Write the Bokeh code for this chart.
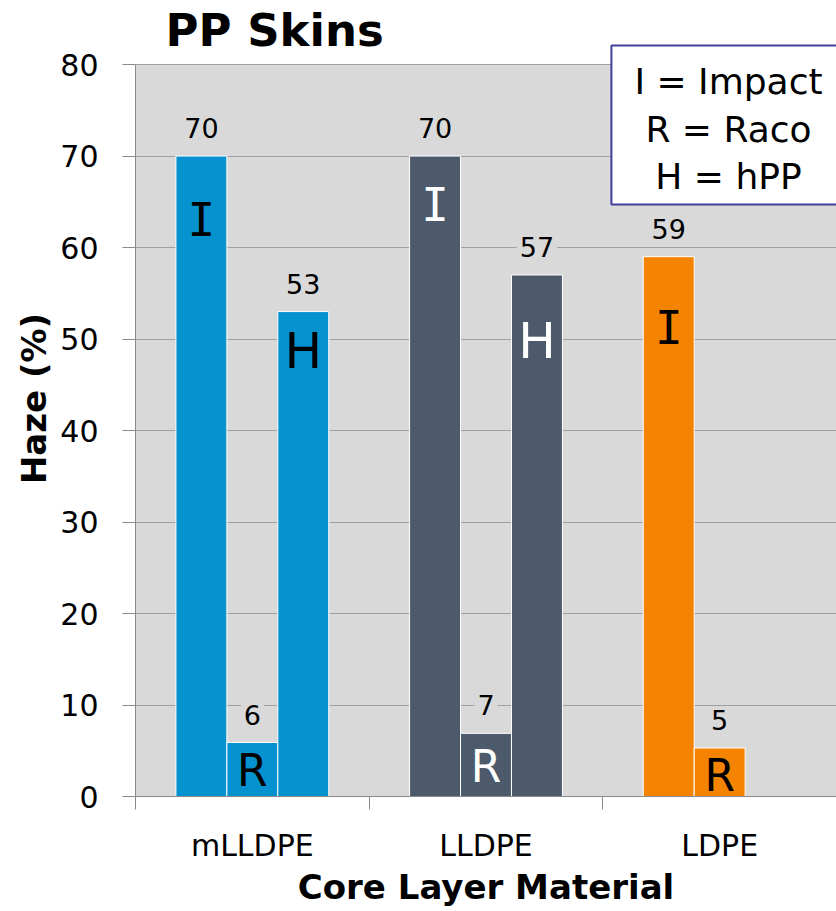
from bokeh.plotting import figure
from bokeh.models import (Range1d, LinearAxis, FixedTicker,
                          ColumnDataSource, Label, BoxAnnotation)
from bokeh.core.properties import value
from bokeh.embed import file_html
from bokeh.resources import INLINE

# ---------------- data ----------------
categories = ["mLLDPE", "LLDPE", "LDPE"]
series_names = ["I", "R", "H"]          # I = Impact, R = Raco, H = hPP
impact = [70, 70, 59]
raco = [5.9, 6.9, 5.3]
hpp = [53, 57, None]
y_ticks = [0, 10, 20, 30, 40, 50, 60, 70, 80]
y_max = 80
legend_lines = ["I = Impact", "R = Raco", "H = hPP"]
title_text = "PP Skins"
x_title = "Core Layer Material"
y_title = "Haze (%)"

# ---------------- styles ----------------
FONT = "DejaVu Sans"
bar_colors = ["#0691cf", "#4c5a6b", "#f38300"]
letter_colors = ["black", "white", "black"]
BG = "#d9d9d9"
GRID = "#a0a0a0"
AXIS = "#8a8a8a"
BAR_W = 0.218
offsets = [-BAR_W, 0.0, BAR_W]
letter_sizes = {"I": "46px", "R": "44px", "H": "50px"}
letter_fonts = {"I": "DejaVu Sans Mono", "R": FONT, "H": FONT}
# pixel drop of the letter below the bar top, per category
letter_drop = {"I": [64, 49, 71], "R": [28, 33, 27], "H": [39, 66, 0]}
HEADROOM = 7.0   # extra (empty) y-space above the 80 line for the title and the key box

n = len(categories)
cat_pos = {c: i + 0.5 for i, c in enumerate(categories)}   # centre of each category slot

p = figure(x_range=Range1d(0, n), y_range=Range1d(0, y_max + HEADROOM),
           width=836, height=911, output_backend="svg", toolbar_location=None,
           x_axis_location=None, min_border_left=135, min_border_top=0,
           min_border_bottom=115, min_border_right=0)
p.background_fill_color = "white"
p.border_fill_color = "white"
p.outline_line_color = None
p.xgrid.grid_line_color = None
p.ygrid.grid_line_color = GRID
p.ygrid.ticker = FixedTicker(ticks=y_ticks)

# grey plotting area 0..80
p.add_layout(BoxAnnotation(bottom=0, top=y_max, fill_color=BG, fill_alpha=1.0,
                           line_color=None, level="image"))

# y axis
ya = p.yaxis[0]
ya.ticker = FixedTicker(ticks=y_ticks)
ya.bounds = (0, y_max)
ya.major_tick_out = 13
ya.major_tick_in = 0
ya.minor_tick_line_color = None
ya.major_tick_line_color = AXIS
ya.axis_line_color = AXIS
ya.major_label_text_font = FONT
ya.major_label_text_font_size = "30px"
ya.major_label_text_color = "black"
ya.major_label_standoff = 24
ya.axis_label = y_title
ya.axis_label_text_font = FONT
ya.axis_label_text_font_size = "34px"
ya.axis_label_text_font_style = "bold"
ya.axis_label_text_color = "black"
ya.axis_label_standoff = 3

# x axis: boundary ticks (minor) + category labels at slot centres (major)
xa = LinearAxis(ticker=FixedTicker(ticks=[cat_pos[c] for c in categories],
                                   minor_ticks=list(range(n + 1))),
                major_label_overrides={cat_pos[c]: c for c in categories})
xa.major_tick_line_color = None
xa.major_tick_out = 13
xa.major_tick_in = 0
xa.minor_tick_out = 13
xa.minor_tick_in = 0
xa.minor_tick_line_color = AXIS
xa.axis_line_color = AXIS
xa.major_label_text_font = FONT
xa.major_label_text_font_size = "30px"
xa.major_label_text_color = "black"
xa.major_label_standoff = 18
xa.axis_label = x_title
xa.axis_label_text_font = FONT
xa.axis_label_text_font_size = "34px"
xa.axis_label_text_font_style = "bold"
xa.axis_label_text_color = "black"
xa.axis_label_standoff = 1
p.add_layout(xa, "below")

# bars, value labels and letters
for k, (name, vals) in enumerate(zip(series_names, [impact, raco, hpp])):
    idx = [i for i, v in enumerate(vals) if v is not None]
    src = ColumnDataSource(dict(
        x=[cat_pos[categories[i]] + offsets[k] for i in idx],
        top=[vals[i] for i in idx],
        lab=["%.0f" % vals[i] for i in idx],
        letter=[name for i in idx],
        color=[bar_colors[i] for i in idx],
        lcolor=[letter_colors[i] for i in idx],
        drop=[letter_drop[name][i] for i in idx],
    ))
    p.vbar(x="x", top="top", width=BAR_W, bottom=0, fill_color="color",
           line_color="white", line_width=1, source=src)
    p.text(x="x", y="top", text="lab", y_offset=-28, text_align="center",
           text_baseline="alphabetic", text_font=value(FONT),
           text_font_size="27px", text_color="black",
           background_fill_color=BG, padding=3, source=src)
    p.text(x="x", y="top", text="letter", y_offset="drop", text_align="center",
           text_baseline="alphabetic", text_font=value(letter_fonts[name]),
           text_font_size=letter_sizes[name], text_color="lcolor", source=src)

# title
p.add_layout(Label(x=0, y=y_max, x_offset=30, y_offset=34, text=title_text,
                   text_font=FONT, text_font_size="45px", text_font_style="bold",
                   text_color="black", text_baseline="alphabetic"))

# key box
p.add_layout(Label(x=n, y=y_max, x_offset=-108, y_offset=19,
                   text="\n".join(legend_lines), text_align="center",
                   text_baseline="top", text_font=FONT, text_font_size="36px",
                   text_line_height=1.17, text_color="black",
                   background_fill_color="white", border_line_color="#40409a",
                   border_line_width=2,
                   padding=dict(left=23, right=23, top=15, bottom=7)))

open("out.html", "w").write(file_html(p, INLINE))
